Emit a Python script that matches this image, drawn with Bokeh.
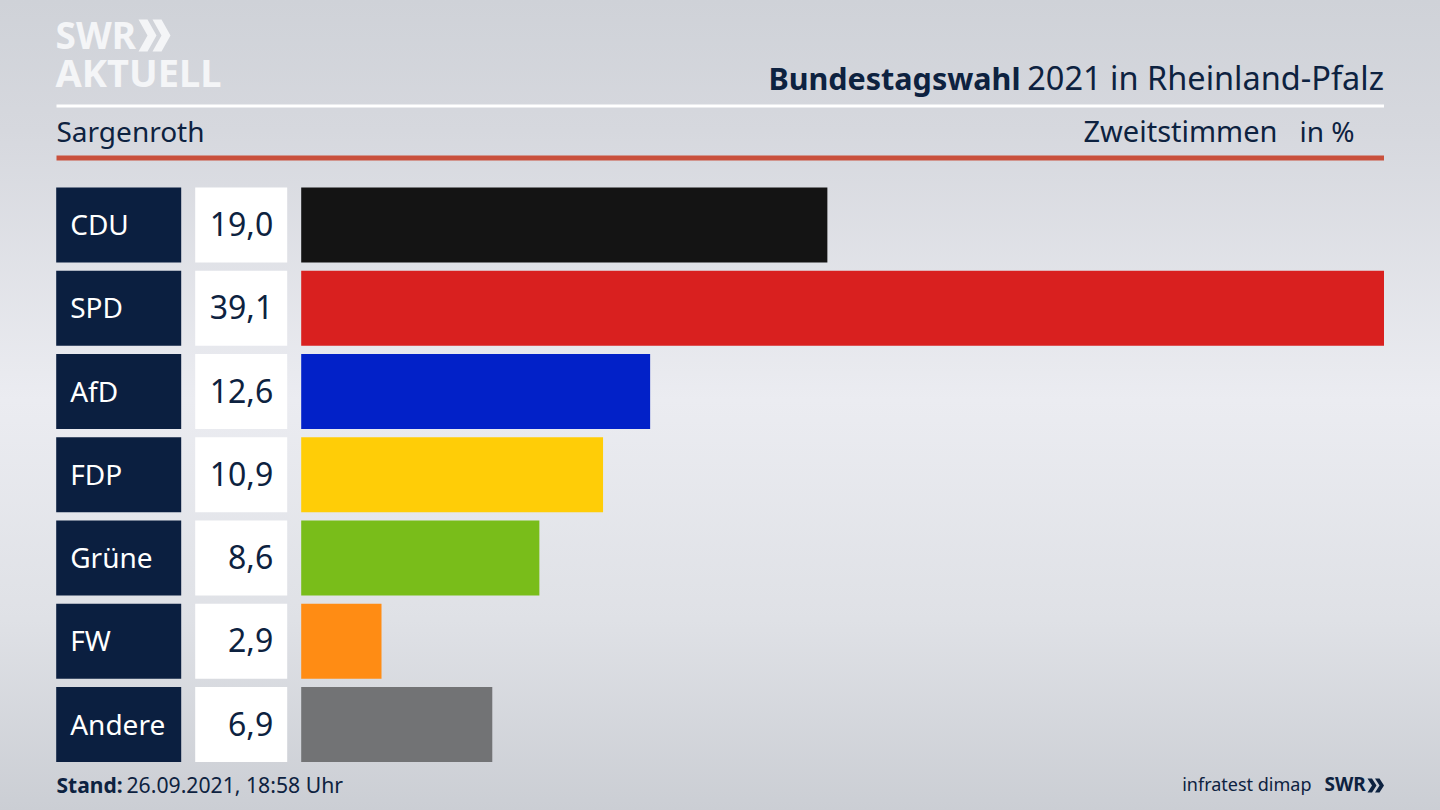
from bokeh.embed import file_html
from bokeh.resources import INLINE
from bokeh.plotting import figure
from bokeh.models import ColumnDataSource, Range1d
from bokeh.core.properties import value

parties = ["CDU", "SPD", "AfD", "FDP", "Grüne", "FW", "Andere"]
values = [19.0, 39.1, 12.6, 10.9, 8.6, 2.9, 6.9]
colors = ["#141414", "#d9201f", "#0221c8", "#ffcd07", "#79bd1a", "#ff8c14", "#727375"]
value_labels = ["19,0", "39,1", "12,6", "10,9", "8,6", "2,9", "6,9"]

FONT = value("Noto Sans")
NAVY = "#0b1f40"
TEXT = "#0d2240"
LOGO = "#f4f5f7"
M = 8  # page margin
W, H = 1424, 794
ZERO, R = 300.7, 1383.5      # page pixels of value 0 and of the longest bar
ROW0, PITCH = 224.5, 83.25   # page pixels of first row centre and row pitch
xs = (R - ZERO) / max(values)
def dx(px):
    return (px - ZERO) / xs
def dy(px):
    return (px - ROW0) / PITCH

rows = list(range(len(parties)))
src = ColumnDataSource(dict(row=rows, party=parties, value=values, color=colors, label=value_labels))

p = figure(width=W, height=H, output_backend="svg", toolbar_location=None,
           x_range=Range1d(dx(M), dx(M + W)),
           y_range=Range1d(dy(M + H), dy(M)),
           min_border_left=0, min_border_right=0, min_border_top=0, min_border_bottom=0,
           background_fill_alpha=0, border_fill_alpha=0, outline_line_color=None)
p.extra_x_ranges = {"px": Range1d(M, M + W)}
p.extra_y_ranges = {"px": Range1d(M + H, M)}
p.xaxis.visible = False
p.yaxis.visible = False
p.grid.visible = False

BAR = 75 / PITCH
p.hbar(y="row", left=dx(55.7), right=dx(180.7), height=BAR, color=NAVY, line_color=None, source=src)
p.hbar(y="row", left=dx(194.7), right=dx(286.7), height=BAR, color="#ffffff", line_color=None, source=src)
p.hbar(y="row", left=0, right="value", height=BAR, color="color", line_color=None, source=src)
p.text(x=dx(69.7), y="row", text="party", source=src, text_font=FONT, text_font_size="28px", y_offset=-1,
       text_color="#ffffff", text_baseline="middle", text_align="left")
p.text(x=dx(272.7), y="row", text="label", source=src, text_font=FONT, text_font_size="32px", y_offset=-1,
       text_color=TEXT, text_baseline="middle", text_align="right")

def box(x0, x1, y0, y1, c):
    p.quad(left=[x0], right=[x1], top=[y0], bottom=[y1], color=c, line_color=None,
           x_range_name="px", y_range_name="px")

def lab(x, y, t, size, c=TEXT, bold=False, align="left"):
    p.text(x=[x], y=[y - 0.38 * size], text=[t], text_font=FONT, text_font_size=f"{size}px", text_color=c,
           text_font_style="bold" if bold else "normal",
           text_align=align, text_baseline="alphabetic", x_range_name="px", y_range_name="px")

def chevrons(x, y0, y1, w, step, c):
    ym = (y0 + y1) / 2
    for k in range(2):
        x0 = x + k * step
        p.patch([x0, x0 + w * 0.5, x0 + w, x0 + w * 0.5, x0, x0 + w * 0.5],
                [y0, y0, ym, y1, y1, ym], color=c, line_color=None,
                x_range_name="px", y_range_name="px")

box(56, 1383.5, 104, 107, "#ffffff")
box(56, 1383.5, 155, 160, "#c9503c")

lab(55, 48.5, "SWR", 37, LOGO, True)
chevrons(138, 19, 51, 18, 14, LOGO)
lab(55, 85.5, "AKTUELL", 38, LOGO, True)
lab(1383.5, 89, "2021 in Rheinland-Pfalz", 32.5, align="right")
lab(1020, 89, "Bundestagswahl", 30.5, bold=True, align="right")
lab(56, 141.5, "Sargenroth", 28)
lab(1277, 141.5, "Zweitstimmen", 29, align="right")
lab(1354, 141.5, "in %", 28, align="right")
lab(56, 792, "Stand:", 21, bold=True)
lab(126, 792, "26.09.2021, 18:58 Uhr", 21.2)
lab(1311, 790.5, "infratest dimap", 18, align="right")
lab(1324, 790.5, "SWR", 19, TEXT, True)
chevrons(1367, 778, 792, 9, 7.5, TEXT)

TEMPLATE = """
{% block preamble %}<style>
html { height: 810px !important; margin: 0 !important; overflow: hidden;
  background: linear-gradient(180deg, #cfd2d8 0px, #d6d8de 130px, #ebecf1 400px, #dfe1e6 620px, #cbced4 810px) no-repeat; }
body { margin: 8px !important; height: 794px !important; background: transparent; }
</style>{% endblock %}
"""
open("out.html", "w").write(file_html(p, INLINE, template=TEMPLATE))
